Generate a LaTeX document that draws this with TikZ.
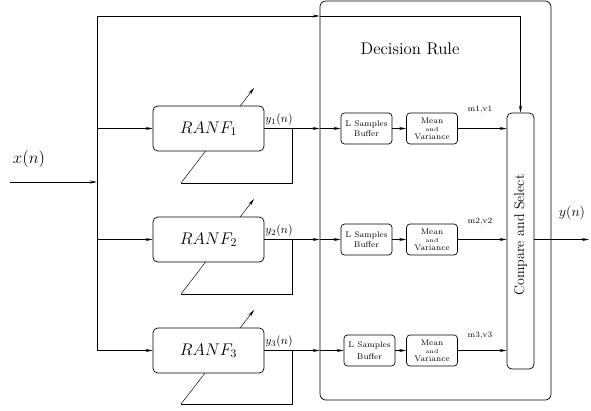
\documentclass[tikz,border=0pt]{standalone}
\usepackage{tikz}
\usepackage{amsmath}
\usetikzlibrary{calc,positioning,arrows.meta}
\usetikzlibrary{backgrounds}
\tikzset{
	>={Stealth[length=6pt,width=2.6pt]},
	filt/.style={draw, fill=white, rounded corners=4pt, minimum width=3.33cm, minimum height=1.35cm, font=\Large},
	stage/.style={draw, rounded corners=3pt, minimum width=1.53cm, minimum height=0.93cm, inner sep=1pt, align=center, font=\scriptsize},
	block/.style={draw, rounded corners=5pt},
}
\newcommand{\meanvar}{Mean\\[-1pt]{\tiny and}\\[-1pt]Variance}

\begin{document}
\begin{tikzpicture}[x=0.03cm, y=-0.03cm, line width=0.6pt]
		\useasboundingbox (0,0) rectangle (591,410);

		% decision rule block
		\node[block, minimum width=6.93cm, minimum height=11.97cm] (dec) at (435.5,200.5) {};
		\node[font=\Large] (dectitle) at (410,49) {Decision Rule};

		% adaptive filters
		\node[filt] (ranf1) at (208.5,128.5) {$RANF_1$};
		\node[filt] (ranf2) at (208.5,239.5) {$RANF_2$};
		\node[filt] (ranf3) at (208.5,350.5) {$RANF_3$};

		% buffers and statistics
		\node[stage] (buf1) at (366.5,128.5) {L Samples\\Buffer};
		\node[stage] (buf2) at (366.5,239.5) {L Samples\\Buffer};
		\node[stage] (buf3) at (369.5,350.5) {L Samples\\[2pt]Buffer};
		\node[stage] (mv1) at (432,128.5) {\meanvar};
		\node[stage] (mv2) at (432,239.5) {\meanvar};
		\node[stage] (mv3) at (432,350.5) {\meanvar};

		\node[block, rounded corners=4pt, minimum width=0.81cm, minimum height=7.68cm] (cmp) at (520.5,241) {};
		\node[rotate=90, font=\large] (cmplab) at ($(cmp)+(0,-6)$) {Compare and Select};

		% points on the lines
		\coordinate (xin) at (10,182);
		\coordinate (jn) at (97,182);
		\coordinate (top) at (97,16);
		\coordinate (b1) at (97,128.5);
		\coordinate (b2) at (97,239.5);
		\coordinate (b3) at (97,350.5);
		\coordinate (o1) at (292,128.5);
		\coordinate (o2) at (292,239.5);
		\coordinate (o3) at (292,350.5);
		\coordinate (f1) at (181,183);
		\coordinate (f2) at (181,294);
		\coordinate (f3) at (181,404);
		\coordinate (adj1) at (254,88);
		\coordinate (adj2) at (254,199);
		\coordinate (adj3) at (254,310);
		\coordinate (yout) at (589,239.5);

		% labels
		\node[font=\Large] (xlab) at (29,159) {$x(n)$};
		\node (y1lab) at (279,120) {$y_1(n)$};
		\node (y2lab) at (279,231) {$y_2(n)$};
		\node (y3lab) at (279,342) {$y_3(n)$};
		\node[font=\scriptsize] (m1lab) at (480,110) {m1,v1};
		\node[font=\scriptsize] (m2lab) at (480,222) {m2,v2};
		\node[font=\scriptsize] (m3lab) at (480,336) {m3,v3};
		\node[font=\large] (ylab) at (572,213) {$y(n)$};

		% input and distribution bus
		\draw[->] (xin) -- (jn);
		\draw (top) -- (b3);
		\draw[->] (b1) -- (ranf1.west);
		\draw[->] (b2) -- (ranf2.west);
		\draw[->] (b3) -- (ranf3.west);
		\draw[->] (top) -- (top -| dec.west);
		\draw[->] (top -| dec.west) -| (cmp.north);

		% filter outputs into the decision rule
		\draw[->] (ranf1.east) -- (ranf1.east -| dec.west);
		\draw[->] (ranf1.east -| dec.west) -- (buf1.west);
		\draw[->] (ranf2.east) -- (ranf2.east -| dec.west);
		\draw[->] (ranf2.east -| dec.west) -- (buf2.west);
		\draw[->] (ranf3.east) -- (ranf3.east -| dec.west);
		\draw[->] (ranf3.east -| dec.west) -- (buf3.west);
		\draw[->] (buf1) -- (mv1);
		\draw[->] (buf2) -- (mv2);
		\draw[->] (buf3) -- (mv3);
		\draw[->] (mv1.east) -- (mv1.east -| cmp.west);
		\draw[->] (mv2.east) -- (mv2.east -| cmp.west);
		\draw[->] (mv3.east) -- (mv3.east -| cmp.west);
		\draw[->] (cmp.east |- yout) -- (yout);

		% error feedback and adaptation arrows
		\draw (o1) |- (f1);
		\draw (o2) |- (f2);
		\draw (o3) |- (f3);
		\begin{scope}[on background layer]
			\draw[->] (f1) -- (adj1);
			\draw[->] (f2) -- (adj2);
			\draw[->] (f3) -- (adj3);
		\end{scope}
	\end{tikzpicture}
\end{document}
